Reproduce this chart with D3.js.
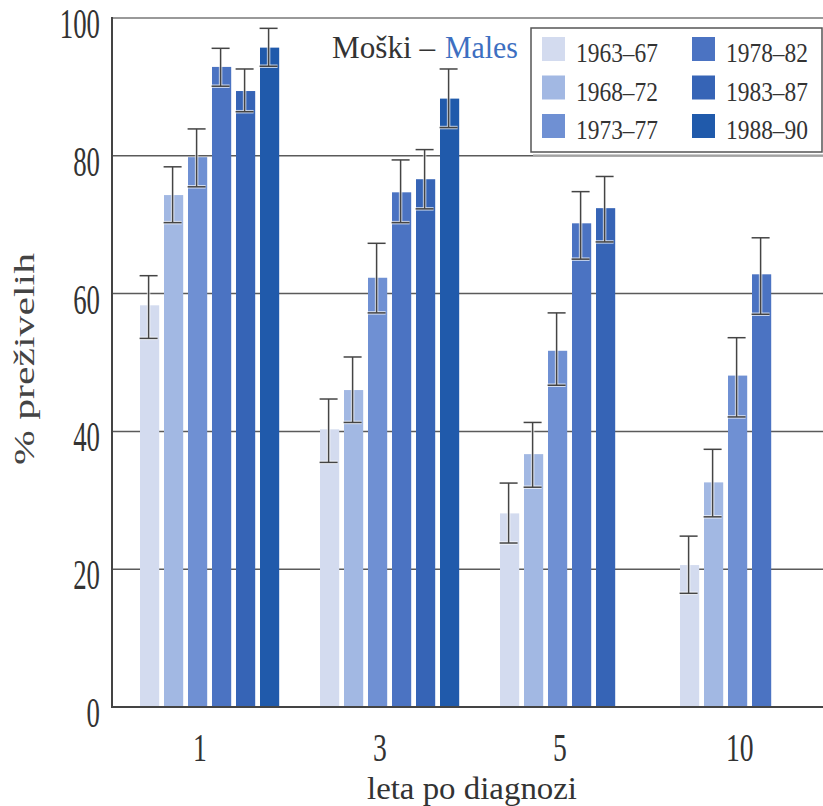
<!DOCTYPE html>
<html>
<head>
<meta charset="utf-8">
<script src="https://cdn.jsdelivr.net/npm/d3@7"></script>
<style>
  html, body { margin: 0; padding: 0; background: #fff; }
  svg { display: block; }
  text { font-family: "Liberation Serif", "DejaVu Serif", serif; fill: #333; }
</style>
</head>
<body>
<svg id="chart" width="823" height="806"></svg>
<script>
// ---- data ----
const categories = ["1", "3", "5", "10"];
const series = ["1963–67", "1968–72", "1973–77", "1978–82", "1983–87", "1988–90"];
const colors = ["#d3dbef", "#a2b8e3", "#6f90d3", "#4b73c2", "#3664b6", "#205aab"];
const v1963 = [58.3, 40.3, 28.1, 20.6];
const v1968 = [74.3, 46.0, 36.7, 32.6];
const v1973 = [79.8, 62.3, 51.7, 48.1];
const v1978 = [92.9, 74.7, 70.2, 62.8];
const v1983 = [89.4, 76.6, 72.4, null];
const v1988 = [95.7, 88.3, null, null];
const lo1963 = [53.5, 35.5, 23.8, 16.5], hi1963 = [62.6, 44.7, 32.5, 24.8];
const lo1968 = [70.3, 41.3, 31.9, 27.6], hi1968 = [78.4, 50.8, 41.3, 37.4];
const lo1973 = [75.5, 57.2, 46.7, 42.1], hi1973 = [83.9, 67.3, 57.2, 53.6];
const lo1978 = [90.1, 70.3, 65.0, 57.0], hi1978 = [95.6, 79.4, 74.8, 68.1];
const lo1983 = [86.4, 72.3, 67.5, null], hi1983 = [92.6, 80.9, 77.0, null];
const lo1988 = [93.0, 84.1, null, null], hi1988 = [98.5, 92.6, null, null];
const yTicks = [0, 20, 40, 60, 80, 100];
const titleLeft = "Moški –";
const titleRight = "Males";
const yTitle = "% preživelih";
const xTitle = "leta po diagnozi";

const values = [v1963, v1968, v1973, v1978, v1983, v1988];
const lows = [lo1963, lo1968, lo1973, lo1978, lo1983, lo1988];
const highs = [hi1963, hi1968, hi1973, hi1978, hi1983, hi1988];

const rows = [];
series.forEach((s, si) => categories.forEach((c, ci) => {
  if (values[si][ci] != null) rows.push({ s, si, c, v: values[si][ci], lo: lows[si][ci], hi: highs[si][ci] });
}));

// ---- layout ----
const svg = d3.select("#chart");
const pLeft = 112, pRight = 823, pBottom = 707, pTop = 18;

const y = d3.scaleLinear().domain([0, 100]).range([pBottom, pTop]);
const x = d3.scaleBand().domain(categories).range([122, 837.2]).paddingInner(0.2267).paddingOuter(0.1);
const xs = d3.scaleBand().domain(series).range([0, x.bandwidth()]).paddingInner(0.2).paddingOuter(0);

// gridlines
svg.append("g").selectAll("line").data(yTicks.filter(t => t > 0)).join("line")
  .attr("x1", pLeft).attr("x2", pRight)
  .attr("y1", d => y(d)).attr("y2", d => y(d))
  .attr("stroke", d => d === 100 ? "#777" : "#5a5a5a")
  .attr("stroke-width", 1.5);

// bars
svg.append("g").selectAll("rect").data(rows).join("rect")
  .attr("x", d => x(d.c) + xs(d.s))
  .attr("width", xs.bandwidth())
  .attr("y", d => y(d.v))
  .attr("height", d => y(0) - y(d.v))
  .attr("fill", d => colors[d.si]);

// error bars
const eb = svg.append("g").selectAll("g").data(rows).join("g")
  .attr("transform", d => `translate(${x(d.c) + xs(d.s) + xs.bandwidth() / 2 - 1},0)`);
const capW = 9;
[["#ffffff", 3.5, 0.7], ["#444", 1.5, 1]].forEach(([col, w, op]) => {
  eb.append("line").attr("x1", 0).attr("x2", 0)
    .attr("y1", d => y(d.hi)).attr("y2", d => y(d.lo))
    .attr("stroke", col).attr("stroke-width", w).attr("opacity", op);
  eb.append("line").attr("x1", -capW).attr("x2", capW)
    .attr("y1", d => y(d.hi)).attr("y2", d => y(d.hi))
    .attr("stroke", col).attr("stroke-width", w).attr("opacity", op);
  eb.append("line").attr("x1", -capW).attr("x2", capW)
    .attr("y1", d => y(d.lo)).attr("y2", d => y(d.lo))
    .attr("stroke", col).attr("stroke-width", w).attr("opacity", op);
});

// axes lines
svg.append("line").attr("x1", pLeft).attr("x2", pLeft).attr("y1", y(100) - 1).attr("y2", y(0) + 1)
  .attr("stroke", "#444").attr("stroke-width", 2);
svg.append("line").attr("x1", pLeft).attr("x2", pRight).attr("y1", y(0)).attr("y2", y(0))
  .attr("stroke", "#444").attr("stroke-width", 2);

// y tick labels
svg.append("g").selectAll("text").data(yTicks).join("text")
  .attr("x", 100).attr("y", d => y(d) + 20)
  .attr("text-anchor", "end")
  .attr("font-size", 42)
  .attr("textLength", d => String(d).length * 13.4)
  .attr("lengthAdjust", "spacingAndGlyphs")
  .text(d => d);

// x tick labels
svg.append("g").selectAll("text").data(categories).join("text")
  .attr("x", d => x(d) + x.bandwidth() * 0.43)
  .attr("y", 761)
  .attr("text-anchor", "middle")
  .attr("font-size", 40)
  .attr("textLength", d => d.length * 13.8)
  .attr("lengthAdjust", "spacingAndGlyphs")
  .text(d => d);

// axis titles
svg.append("text")
  .attr("transform", "translate(34,359) rotate(-90)")
  .attr("text-anchor", "middle")
  .attr("font-size", 30)
  .attr("textLength", 212)
  .attr("lengthAdjust", "spacingAndGlyphs")
  .style("fill", "#444")
  .text(yTitle);
svg.append("text")
  .attr("x", 472).attr("y", 799)
  .attr("text-anchor", "middle")
  .attr("font-size", 32)
  .attr("textLength", 210)
  .attr("lengthAdjust", "spacingAndGlyphs")
  .text(xTitle);

// chart title
svg.append("text").attr("x", 332).attr("y", 58).attr("font-size", 31)
  .attr("textLength", 103).attr("lengthAdjust", "spacingAndGlyphs").text(titleLeft);
svg.append("text").attr("x", 445).attr("y", 58).attr("font-size", 31)
  .attr("textLength", 73).attr("lengthAdjust", "spacingAndGlyphs")
  .style("fill", "#3d6fc1").text(titleRight);

// legend
const lg = svg.append("g");
lg.append("rect").attr("x", 531).attr("y", 28).attr("width", 291).attr("height", 124)
  .attr("fill", "#fff").attr("stroke", "#555").attr("stroke-width", 1.5);
lg.append("line").attr("x1", 533).attr("x2", 823).attr("y1", 155).attr("y2", 155)
  .attr("stroke", "#bbb").attr("stroke-width", 1.5);
const items = lg.selectAll("g.item").data(series).join("g").attr("class", "item")
  .attr("transform", (d, i) => `translate(${i < 3 ? 542 : 692},${37 + (i % 3) * 38.5})`);
items.append("rect").attr("width", 23).attr("height", 24).attr("fill", (d, i) => colors[i]);
items.append("text").attr("x", 34).attr("y", 25).attr("font-size", 28)
  .attr("textLength", 82).attr("lengthAdjust", "spacingAndGlyphs").text(d => d);
</script>
</body>
</html>
